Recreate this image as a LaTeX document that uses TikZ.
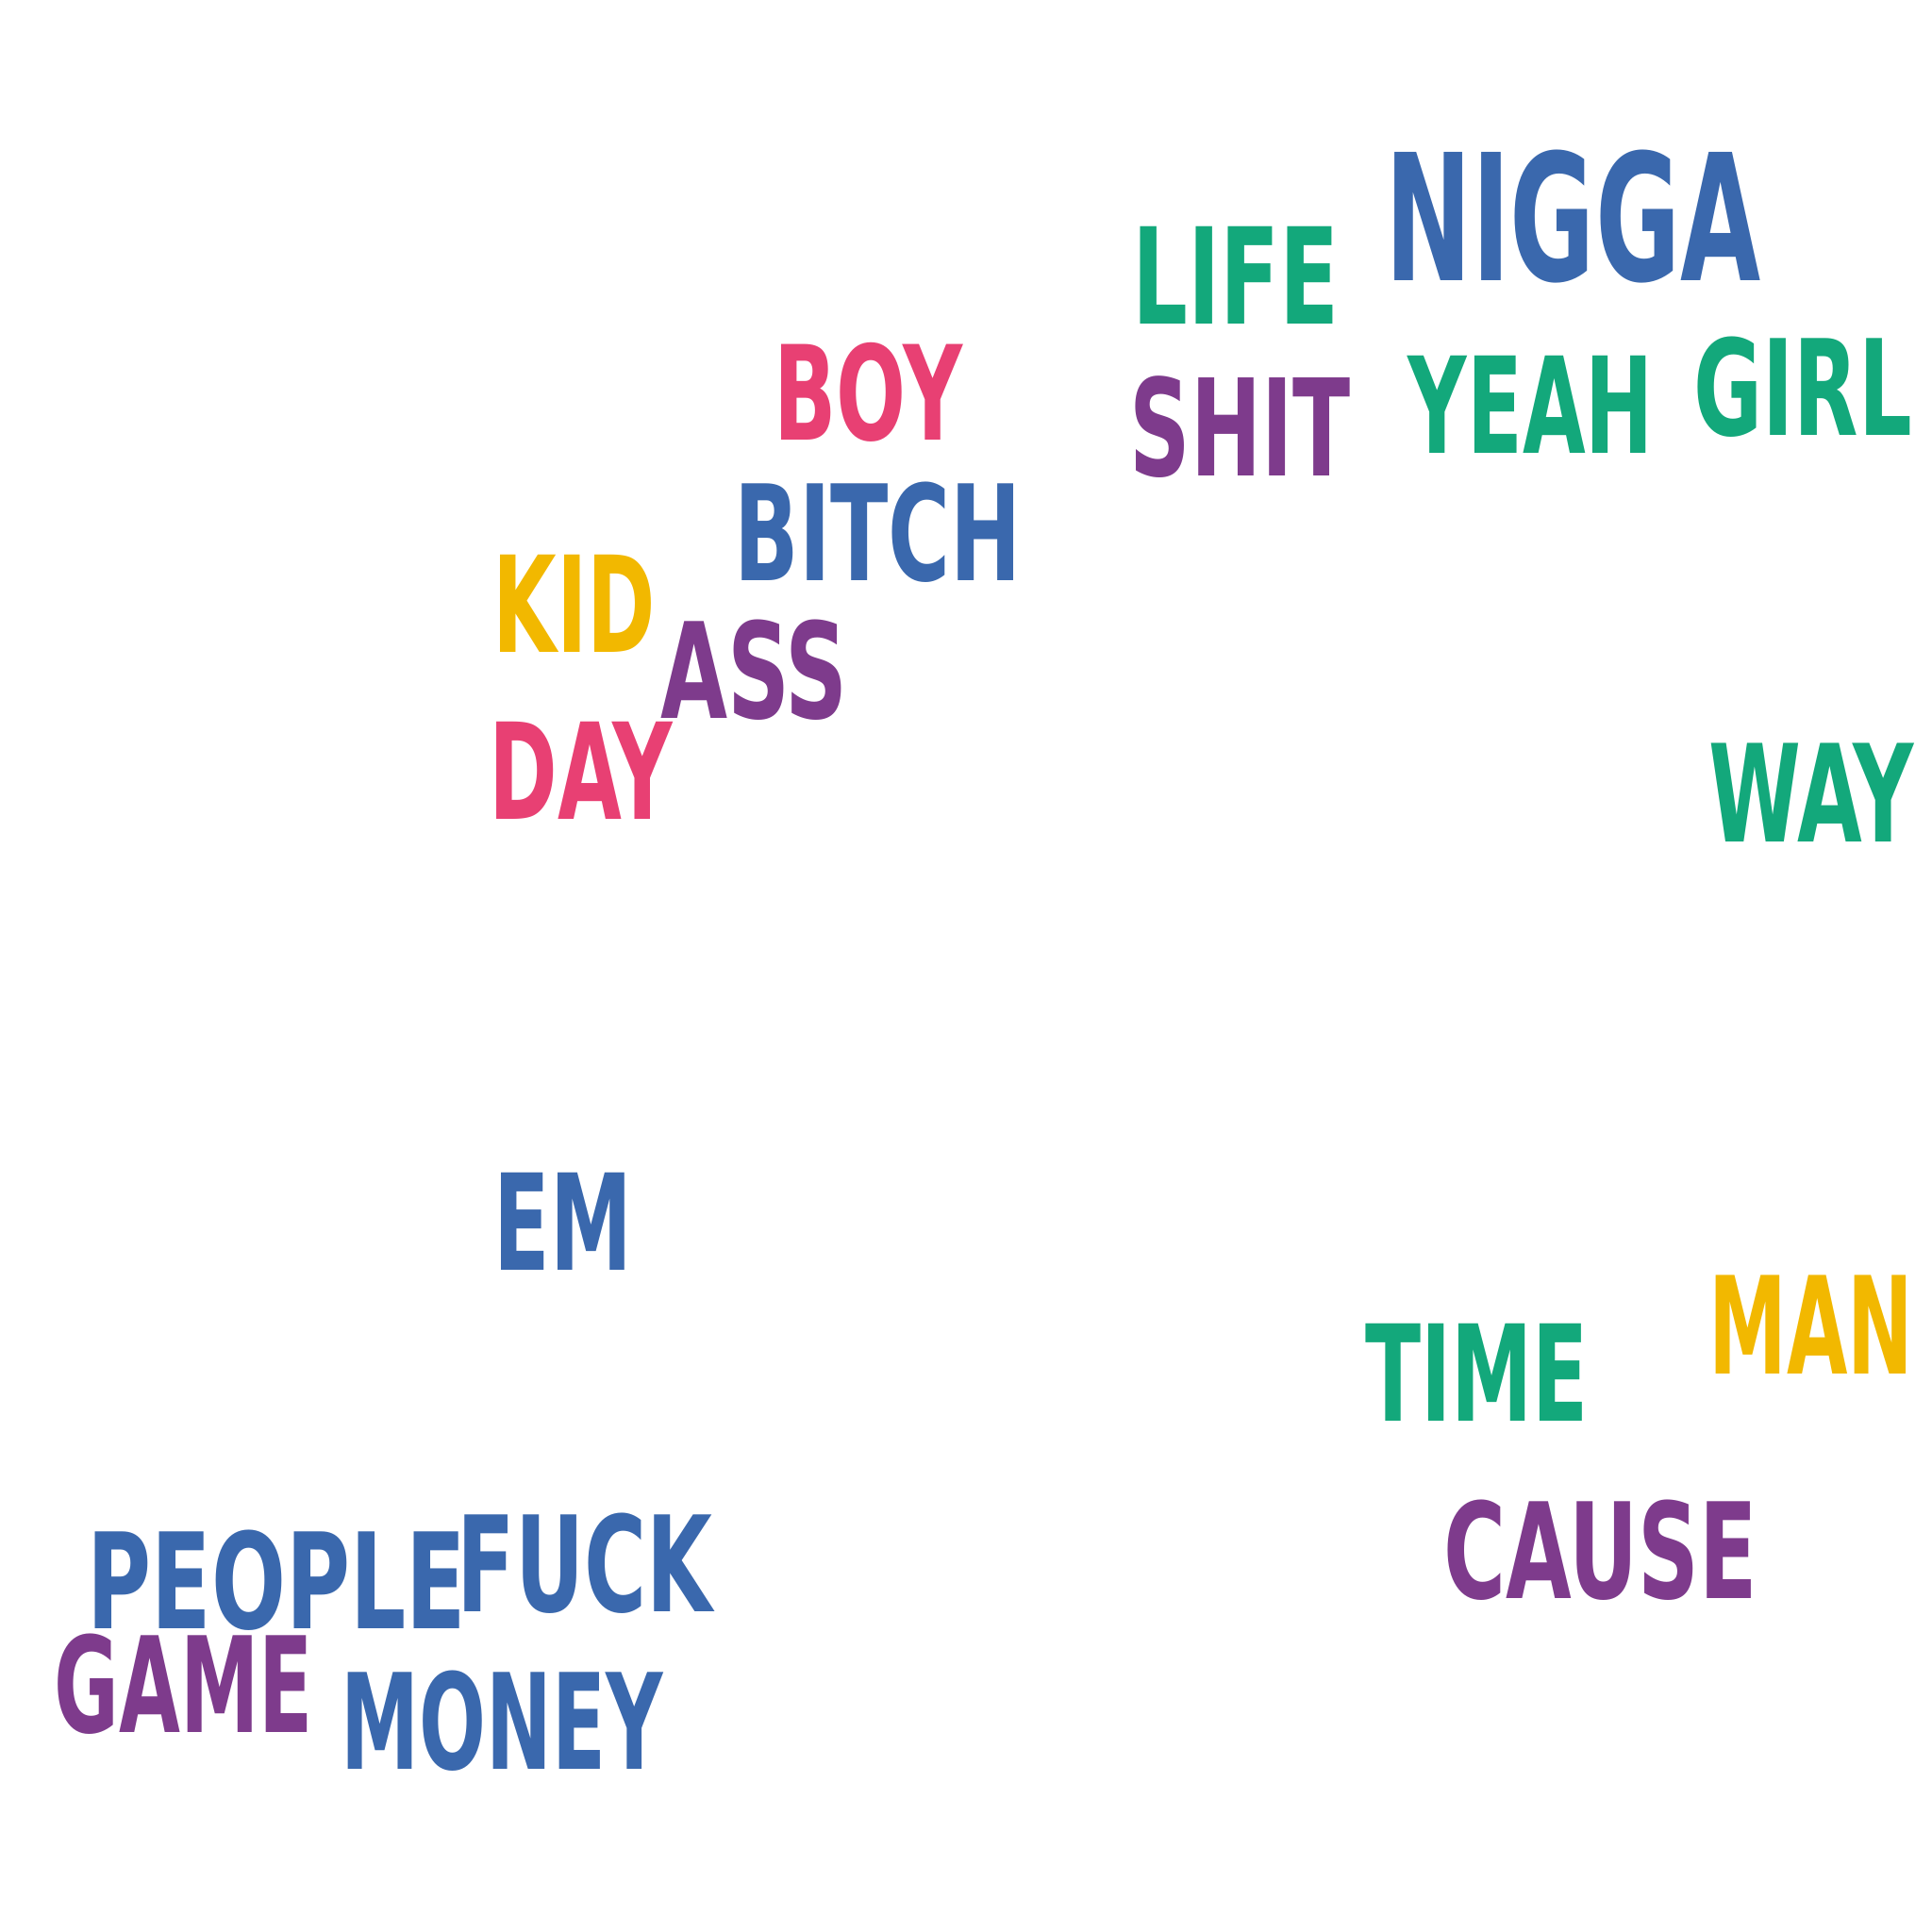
\documentclass[tikz,border=0pt]{standalone}
\usepackage{fontspec}
\usepackage{graphicx}
\usetikzlibrary{calc}
\usetikzlibrary{positioning}

\newfontfamily\cloudfont{DejaVu Sans Condensed}
\definecolor{cloudblue}{HTML}{3A68AD}
\definecolor{cloudgreen}{HTML}{13A87B}
\definecolor{cloudpurple}{HTML}{7E3B8C}
\definecolor{cloudpink}{HTML}{E84073}
\definecolor{cloudyellow}{HTML}{F2B800}

% word scaled to its box (width, height)
\newcommand{\cword}[3]{\resizebox{#1}{#2}{\cloudfont\bfseries #3}}

\tikzset{word/.style={inner sep=0pt,outer sep=0pt,anchor=north west}}

\begin{document}
\begin{tikzpicture}[x=0.01cm,y=-0.01cm]

\coordinate (TOPLEFT) at (0,0);
\useasboundingbox (TOPLEFT) rectangle ++(1568,1568);

%top right words
\node[word,text=cloudblue] at ($(TOPLEFT)+(1124,122)$) (NIGGA) {\cword{3.05cm}{1.06cm}{NIGGA}};
\node[word,text=cloudgreen] at ($(TOPLEFT)+(919,184)$) (LIFE) {\cword{1.68cm}{0.79cm}{LIFE}};
\node[word,text=cloudpurple] at ($(TOPLEFT)+(917,305)$) (SHIT) {\cword{1.79cm}{0.81cm}{SHIT}};
\node[word,text=cloudgreen] at ($(TOPLEFT)+(1143,289)$) (YEAH) {\cword{1.99cm}{0.79cm}{YEAH}};
\node[word,text=cloudgreen] at ($(TOPLEFT)+(1375,273)$) (GIRL) {\cword{1.77cm}{0.80cm}{GIRL}};
\node[word,text=cloudgreen] at ($(TOPLEFT)+(1387,603)$) (WAY) {\cword{1.66cm}{0.80cm}{WAY}};

%%%%%%%

%left middle words
\node[word,text=cloudpink] at ($(TOPLEFT)+(628,278)$) (BOY) {\cword{1.53cm}{0.79cm}{BOY}};
\node[word,text=cloudblue] at ($(TOPLEFT)+(596,391)$) (BITCH) {\cword{2.33cm}{0.80cm}{BITCH}};
\node[word,text=cloudyellow] at ($(TOPLEFT)+(400,450)$) (KID) {\cword{1.32cm}{0.79cm}{KID}};
\node[word,text=cloudpurple] at ($(TOPLEFT)+(536,503)$) (ASS) {\cword{1.52cm}{0.80cm}{ASS}};
\node[word,text=cloudpink] at ($(TOPLEFT)+(397,586)$) (DAY) {\cword{1.49cm}{0.79cm}{DAY}};
\node[word,text=cloudblue] at ($(TOPLEFT)+(401,952)$) (EM) {\cword{1.12cm}{0.79cm}{EM}};

%%%%%%%

%bottom right words
\node[word,text=cloudyellow] at ($(TOPLEFT)+(1387,1035)$) (MAN) {\cword{1.66cm}{0.80cm}{MAN}};
\node[word,text=cloudgreen] at ($(TOPLEFT)+(1108,1074)$) (TIME) {\cword{1.81cm}{0.79cm}{TIME}};
\node[word,text=cloudpurple] at ($(TOPLEFT)+(1172,1217)$) (CAUSE) {\cword{2.54cm}{0.80cm}{CAUSE}};

%bottom left words
\node[word,text=cloudblue] at ($(TOPLEFT)+(71,1242)$) (PEOPLE) {\cword{3.07cm}{0.80cm}{PEOPLE}};
\node[word,text=cloudblue] at ($(TOPLEFT)+(371,1228)$) (FUCK) {\cword{2.07cm}{0.80cm}{FUCK}};
\node[word,text=cloudpurple] at ($(TOPLEFT)+(44,1326)$) (GAME) {\cword{2.10cm}{0.80cm}{GAME}};
\node[word,text=cloudblue] at ($(TOPLEFT)+(277,1356)$) (MONEY) {\cword{2.61cm}{0.80cm}{MONEY}};

\end{tikzpicture}
\end{document}
